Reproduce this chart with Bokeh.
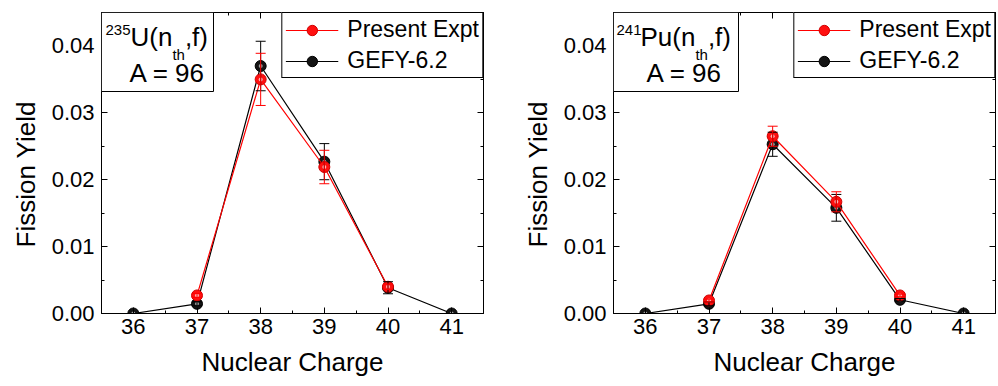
import math
from bokeh.plotting import figure
from bokeh.models import (Range1d, LinearAxis, FixedTicker, PrintfTickFormatter, Whisker, Title,
                          ColumnDataSource, Label, BoxAnnotation, Legend, LegendItem, TeeHead)
from bokeh.layouts import row
from bokeh.embed import file_html
from bokeh.resources import INLINE

# ---------------- data ----------------
charge = [36, 37, 38, 39, 40, 41]
expt_charge = [37, 38, 39, 40]

u235_expt = [0.0027, 0.0350, 0.0219, 0.0040]
u235_expt_err = [0.0003, 0.0039, 0.0025, 0.0004]
u235_gefy = [0.0, 0.00145, 0.0370, 0.0227, 0.00385, 0.0]
u235_gefy_err = [0.0, 0.0003, 0.0037, 0.0027, 0.0009, 0.0]

pu241_expt = [0.00195, 0.0265, 0.0167, 0.0027]
pu241_expt_err = [0.0002, 0.0015, 0.0015, 0.0002]
pu241_gefy = [0.0, 0.00145, 0.0253, 0.0158, 0.00205, 0.0]
pu241_gefy_err = [0.0, 0.0003, 0.0018, 0.0020, 0.0002, 0.0]

x_ticks = [36, 37, 38, 39, 40, 41]
y_ticks = [0.0, 0.01, 0.02, 0.03, 0.04]
series_labels = ["Present Expt", "GEFY-6.2"]

FONT = "Liberation Sans"
FW, FH = 382, 301
X0, X1 = 35.5, 41.5
Y0, Y1 = 0.0, 0.045


def at(dx, dy):
    """pixel offset from the frame's top-left corner -> data coords"""
    return X0 + dx * (X1 - X0) / FW, Y1 - dy * (Y1 - Y0) / FH


def style_axis(ax, labels=True):
    ax.axis_line_color = "black"
    ax.axis_line_width = 1
    ax.major_tick_in = 6
    ax.major_tick_out = 0
    ax.minor_tick_in = 3
    ax.minor_tick_out = 0
    ax.major_tick_line_color = "black"
    ax.minor_tick_line_color = "black"
    ax.major_label_text_font = FONT
    ax.major_label_text_color = "black"
    if labels:
        ax.major_label_text_font_size = "22px"
    else:
        ax.major_label_text_font_size = "0px"
        ax.major_label_text_alpha = 0
        ax.major_label_standoff = 0


def make_panel(mass, elem, elem_w, expt, expt_err, gefy, gefy_err, bl, br,
               sup_dx, main_dx, a_dx, box_w):
    p = figure(frame_width=FW, frame_height=FH, x_range=Range1d(X0, X1), y_range=Range1d(Y0, Y1),
               output_backend="svg", toolbar_location=None,
               min_border_left=bl, min_border_right=br, min_border_top=12, min_border_bottom=73)
    p.xgrid.visible = False
    p.ygrid.visible = False
    p.outline_line_color = "black"
    p.outline_line_alpha = 1
    p.outline_line_width = 1
    p.background_fill_color = "white"
    p.border_fill_color = "white"

    xt = FixedTicker(ticks=x_ticks, minor_ticks=[t + 0.5 for t in x_ticks[:-1]])
    yt = FixedTicker(ticks=y_ticks, minor_ticks=[t + 0.005 for t in y_ticks])

    xa = p.xaxis[0]
    xa.ticker = xt
    style_axis(xa)
    xa.major_label_standoff = 5
    xa.axis_label = "Nuclear Charge"
    xa.axis_label_text_font = FONT
    xa.axis_label_text_font_size = "26px"
    xa.axis_label_text_font_style = "normal"
    xa.axis_label_text_color = "black"
    xa.axis_label_standoff = 10

    ya = p.yaxis[0]
    ya.ticker = yt
    ya.formatter = PrintfTickFormatter(format="%.2f")
    style_axis(ya)
    ya.major_label_standoff = 7

    # y title as a side Title so it can be shifted along the axis like the original
    p.add_layout(Title(text="Fission Yield", align="left", offset=58, standoff=0, padding=8,
                       text_font=FONT, text_font_size="26px", text_font_style="normal",
                       text_color="black"), "left")

    top = LinearAxis(ticker=xt)
    style_axis(top, labels=False)
    p.add_layout(top, "above")
    right = LinearAxis(ticker=yt)
    style_axis(right, labels=False)
    p.add_layout(right, "right")

    # GEFY (black)
    gi = [i for i, e in enumerate(gefy_err) if e > 0]
    gsrc = ColumnDataSource(dict(x=[charge[i] for i in gi],
                                 lo=[gefy[i] - gefy_err[i] for i in gi],
                                 hi=[gefy[i] + gefy_err[i] for i in gi]))
    p.add_layout(Whisker(source=gsrc, base="x", lower="lo", upper="hi", dimension="height",
                         line_color="black", line_width=1,
                         upper_head=TeeHead(size=10, line_color="black", line_width=1),
                         lower_head=TeeHead(size=10, line_color="black", line_width=1),
                         level="glyph"))
    g_line = p.line(charge, gefy, line_color="black", line_width=1.2)
    g_mark = p.scatter(charge, gefy, size=11, fill_color="#141414", line_color="black", line_width=1)
    p.scatter(charge, gefy, size=4, fill_color="#a0a0a0", line_color=None)

    # Present experiment (red)
    esrc = ColumnDataSource(dict(x=expt_charge,
                                 lo=[v - e for v, e in zip(expt, expt_err)],
                                 hi=[v + e for v, e in zip(expt, expt_err)]))
    p.add_layout(Whisker(source=esrc, base="x", lower="lo", upper="hi", dimension="height",
                         line_color="red", line_width=1,
                         upper_head=TeeHead(size=10, line_color="red", line_width=1),
                         lower_head=TeeHead(size=10, line_color="red", line_width=1),
                         level="glyph"))
    e_line = p.line(expt_charge, expt, line_color="red", line_width=1.2)
    e_mark = p.scatter(expt_charge, expt, size=11, fill_color="#ff1010", line_color="#d00000", line_width=1)
    p.scatter(expt_charge, expt, size=4, fill_color="#ffb0b0", line_color=None)

    legend = Legend(items=[LegendItem(label=series_labels[0], renderers=[e_line, e_mark]),
                           LegendItem(label=series_labels[1], renderers=[g_line, g_mark])],
                    location="top_right", margin=0, padding=3, spacing=4,
                    glyph_width=53, glyph_height=26, label_height=26, label_standoff=9,
                    label_text_font=FONT, label_text_font_size="23px", label_text_color="black",
                    border_line_color="black", border_line_alpha=1, border_line_width=1,
                    background_fill_color="white", background_fill_alpha=1)
    p.add_layout(legend)

    # reaction annotation box
    bx1, by0 = at(box_w, 79)
    p.add_layout(BoxAnnotation(left=X0, right=bx1, top=Y1, bottom=by0, fill_color="white",
                               fill_alpha=1, line_color="black", line_alpha=1, line_width=1))

    def txt(dx, dy, s, size):
        x, y = at(dx, dy - 0.4 * size)
        p.add_layout(Label(x=x, y=y, text=s, text_font=FONT, text_font_size=f"{size}px",
                           text_align="left", text_baseline="alphabetic", text_color="black"))

    txt(sup_dx, 23, mass, 15)
    txt(main_dx, 35, elem + "(n", 26)
    txt(main_dx + elem_w, 48, "th", 15)
    txt(main_dx + elem_w + 12.5, 35, ",f)", 26)
    txt(a_dx, 71, "A = 96", 26)
    return p


p1 = make_panel("235", "U", 41.9, u235_expt, u235_expt_err, u235_gefy, u235_gefy_err,
                bl=101, br=3, sup_dx=4, main_dx=29, a_dx=28, box_w=112)
p2 = make_panel("241", "Pu", 54.9, pu241_expt, pu241_expt_err, pu241_gefy, pu241_gefy_err,
                bl=127, br=2, sup_dx=3, main_dx=27, a_dx=33, box_w=125)

layout = row(p1, p2)
open("out.html", "w").write(file_html(layout, INLINE))
